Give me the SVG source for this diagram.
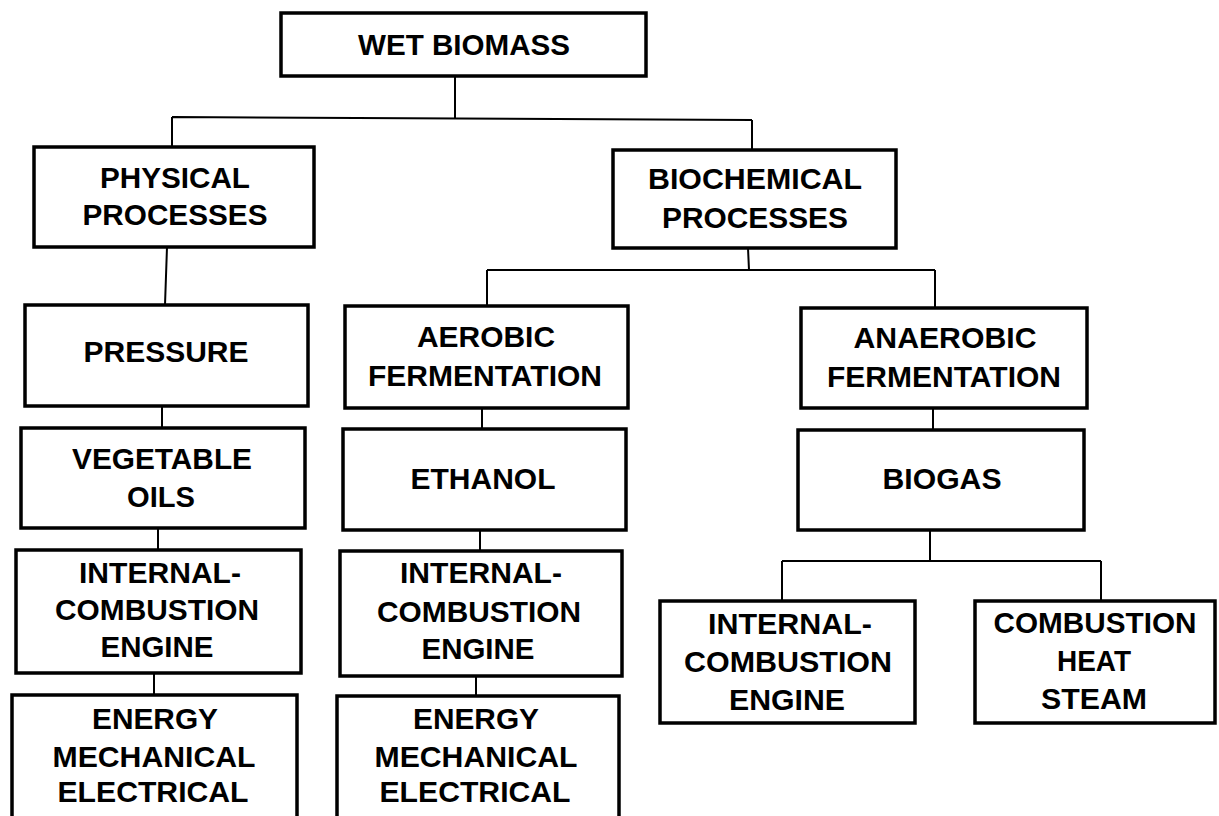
<svg xmlns="http://www.w3.org/2000/svg" width="1219" height="816" viewBox="0 0 1219 816">
<style>
.box{fill:#fff;stroke:#000;stroke-width:3.5}
.t{font-family:"Liberation Sans",Arial,sans-serif;font-weight:bold;font-size:29.5px;fill:#000;text-anchor:middle}
.c{fill:none;stroke:#000;stroke-width:2}
</style>
<rect width="1219" height="816" fill="#fff"/>
<g id="connectors">
<path class="c" d="M455,76 L455,118 M172,117 L752,120 M172,117 L172,147 M752,120 L752,150"/>
<path class="c" d="M167,247 L165,305 M162,406 L162,428 M158,528 L158,550 M154,673 L154,695"/>
<path class="c" d="M748,248 L749,270 M487,270 L935,270 M487,270 L487,306 M935,270 L935,308"/>
<path class="c" d="M482,408 L482,429 M480,530 L480,551 M476,676 L476,696"/>
<path class="c" d="M933,408 L933,430 M930,530 L930,561 M782,561 L1101,561 M782,561 L782,601 M1101,561 L1101,601"/>
</g>
<g id="wet-biomass"><rect class="box" x="281" y="13" width="365" height="63"/>
<text class="t" x="464" y="55" textLength="212" lengthAdjust="spacingAndGlyphs">WET BIOMASS</text></g>
<g id="physical"><rect class="box" x="34" y="147" width="280" height="100"/>
<text class="t" x="175" y="188" textLength="150" lengthAdjust="spacingAndGlyphs">PHYSICAL</text>
<text class="t" x="175" y="225" textLength="185" lengthAdjust="spacingAndGlyphs">PROCESSES</text></g>
<g id="biochemical"><rect class="box" x="613" y="150" width="283" height="98"/>
<text class="t" x="755" y="189" textLength="214" lengthAdjust="spacingAndGlyphs">BIOCHEMICAL</text>
<text class="t" x="755" y="228" textLength="186" lengthAdjust="spacingAndGlyphs">PROCESSES</text></g>
<g id="pressure"><rect class="box" x="25" y="305" width="283" height="101"/>
<text class="t" x="166" y="362" textLength="165" lengthAdjust="spacingAndGlyphs">PRESSURE</text></g>
<g id="vegetable-oils"><rect class="box" x="21" y="428" width="284" height="100"/>
<text class="t" x="162" y="469" textLength="180" lengthAdjust="spacingAndGlyphs">VEGETABLE</text>
<text class="t" x="161" y="507" textLength="68" lengthAdjust="spacingAndGlyphs">OILS</text></g>
<g id="aerobic"><rect class="box" x="345" y="306" width="283" height="102"/>
<text class="t" x="486" y="347" textLength="138" lengthAdjust="spacingAndGlyphs">AEROBIC</text>
<text class="t" x="485" y="386" textLength="234" lengthAdjust="spacingAndGlyphs">FERMENTATION</text></g>
<g id="ethanol"><rect class="box" x="343" y="429" width="283" height="101"/>
<text class="t" x="483" y="489" textLength="145" lengthAdjust="spacingAndGlyphs">ETHANOL</text></g>
<g id="anaerobic"><rect class="box" x="801" y="308" width="286" height="100"/>
<text class="t" x="945" y="348" textLength="183" lengthAdjust="spacingAndGlyphs">ANAEROBIC</text>
<text class="t" x="944" y="387" textLength="234" lengthAdjust="spacingAndGlyphs">FERMENTATION</text></g>
<g id="biogas"><rect class="box" x="798" y="430" width="286" height="100"/>
<text class="t" x="942" y="489" textLength="119" lengthAdjust="spacingAndGlyphs">BIOGAS</text></g>
<g id="ice-left"><rect class="box" x="16" y="550" width="285" height="123"/>
<text class="t" x="160" y="583" textLength="162" lengthAdjust="spacingAndGlyphs">INTERNAL-</text>
<text class="t" x="157" y="620" textLength="204" lengthAdjust="spacingAndGlyphs">COMBUSTION</text>
<text class="t" x="157" y="657" textLength="113" lengthAdjust="spacingAndGlyphs">ENGINE</text></g>
<g id="ice-mid"><rect class="box" x="340" y="551" width="282" height="125"/>
<text class="t" x="481" y="583" textLength="162" lengthAdjust="spacingAndGlyphs">INTERNAL-</text>
<text class="t" x="479" y="622" textLength="204" lengthAdjust="spacingAndGlyphs">COMBUSTION</text>
<text class="t" x="478" y="659" textLength="113" lengthAdjust="spacingAndGlyphs">ENGINE</text></g>
<g id="energy-left"><rect class="box" x="12" y="695" width="285" height="140"/>
<text class="t" x="155" y="729" textLength="126" lengthAdjust="spacingAndGlyphs">ENERGY</text>
<text class="t" x="154" y="767" textLength="203" lengthAdjust="spacingAndGlyphs">MECHANICAL</text>
<text class="t" x="153" y="802" textLength="191" lengthAdjust="spacingAndGlyphs">ELECTRICAL</text></g>
<g id="energy-mid"><rect class="box" x="337" y="696" width="282" height="140"/>
<text class="t" x="476" y="729" textLength="126" lengthAdjust="spacingAndGlyphs">ENERGY</text>
<text class="t" x="476" y="767" textLength="203" lengthAdjust="spacingAndGlyphs">MECHANICAL</text>
<text class="t" x="475" y="802" textLength="191" lengthAdjust="spacingAndGlyphs">ELECTRICAL</text></g>
<g id="ice-right"><rect class="box" x="660" y="601" width="255" height="122"/>
<text class="t" x="790" y="634" textLength="164" lengthAdjust="spacingAndGlyphs">INTERNAL-</text>
<text class="t" x="788" y="672" textLength="208" lengthAdjust="spacingAndGlyphs">COMBUSTION</text>
<text class="t" x="787" y="710" textLength="116" lengthAdjust="spacingAndGlyphs">ENGINE</text></g>
<g id="combustion-heat-steam"><rect class="box" x="975" y="601" width="240" height="122"/>
<text class="t" x="1095" y="633" textLength="203" lengthAdjust="spacingAndGlyphs">COMBUSTION</text>
<text class="t" x="1094" y="671" textLength="74" lengthAdjust="spacingAndGlyphs">HEAT</text>
<text class="t" x="1094" y="709" textLength="106" lengthAdjust="spacingAndGlyphs">STEAM</text></g>
</svg>
